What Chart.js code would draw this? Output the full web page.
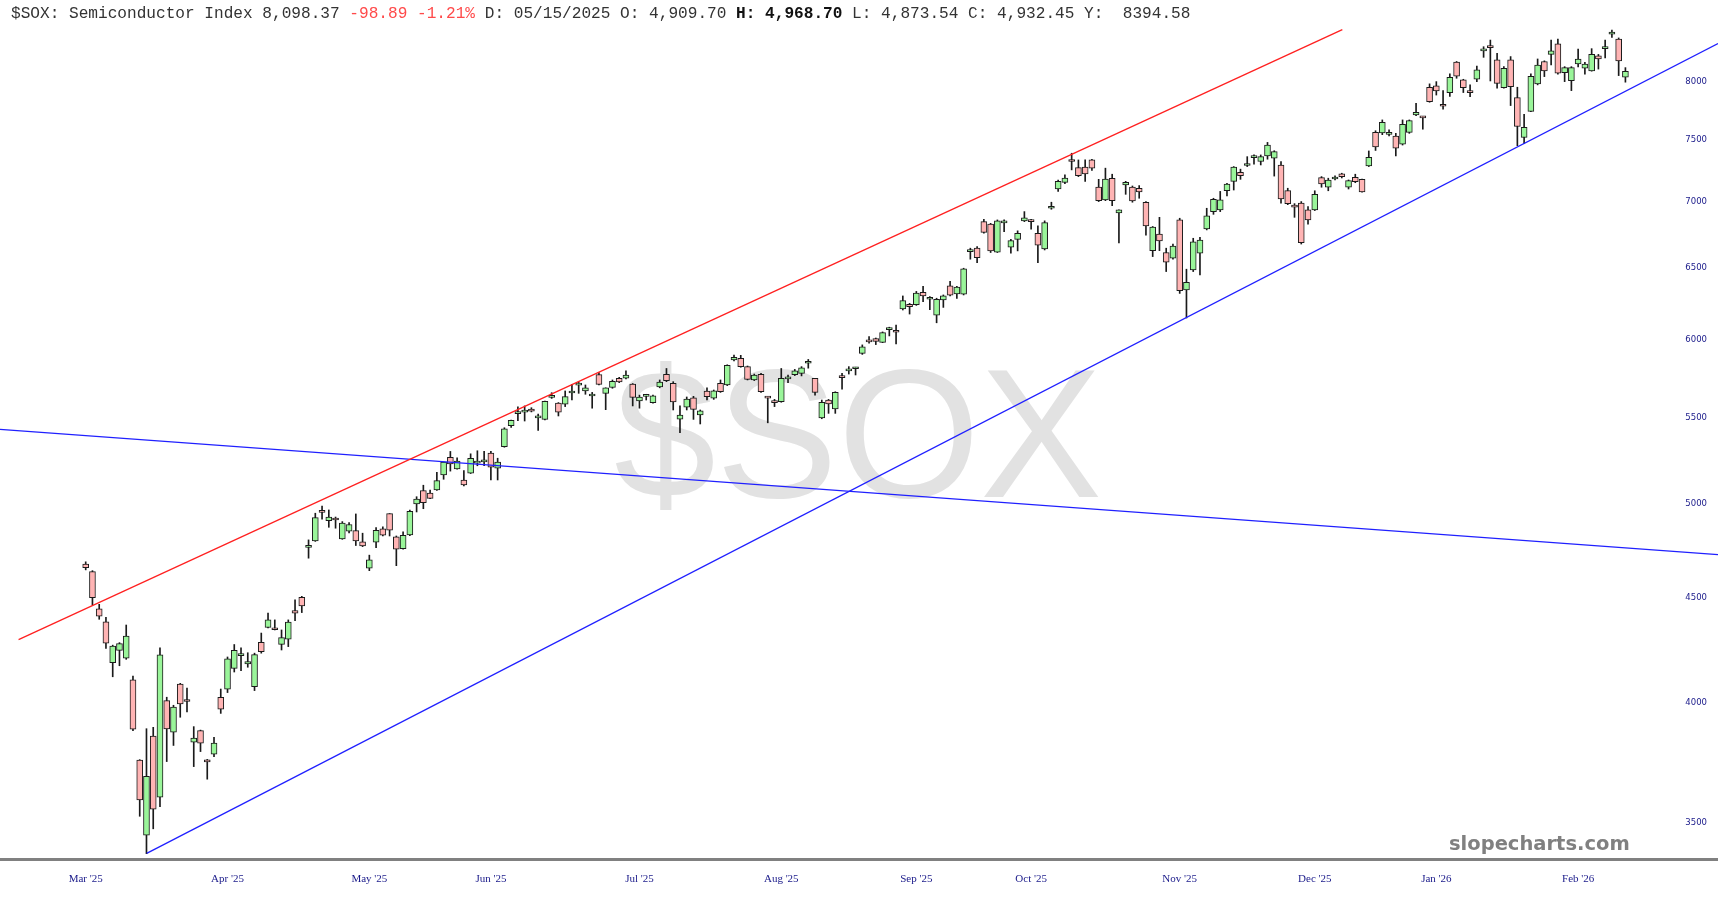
<!DOCTYPE html>
<html>
<head>
<meta charset="utf-8">
<script src="https://cdn.jsdelivr.net/npm/chart.js@4.4.1/dist/chart.umd.min.js"></script>
<style>
html,body{margin:0;padding:0;background:#fff;}
#wrap{position:relative;width:1718px;height:900px;overflow:hidden;}
canvas{position:absolute;left:0;top:0;}
#hdr{position:absolute;left:11px;top:5px;font:16.13px "Liberation Mono","DejaVu Sans Mono",monospace;color:#333;white-space:pre;}
#hdr .r{color:#ff4a4a;}
#hdr .b{font-weight:bold;color:#111;}
</style>
</head>
<body>
<div id="wrap">
<canvas id="c" width="1718" height="900"></canvas>
<div id="hdr">$SOX: Semiconductor Index 8,098.37 <span class="r">-98.89 -1.21%</span> D: 05/15/2025 O: 4,909.70 <span class="b">H: 4,968.70</span> L: 4,873.54 C: 4,932.45 Y:  8394.58</div>
</div>
<script>
// ---- data (daily candles, index 0 = first session shown) ----
const opens = [
4672,4633,4444,4380,4185,4243,4207,4106,3754,3452,
3856,3602,4012,3873,4087,4016,3830,3880,3755,3779,
4027,4063,4159,4218,4179,4075,4282,4353,4350,4272,
4296,4436,4502,4760,4795,4957,4904,4918,4805,4847,
4850,4789,4651,4788,4859,4943,4817,4753,4827,4997,
5071,5058,5075,5161,5264,5196,5132,5171,5229,5236,
5288,5200,5326,5452,5526,5536,5555,5500,5491,5628,
5592,5585,5655,5705,5669,5636,5772,5653,5690,5749,
5749,5712,5605,5634,5595,5693,5774,5717,5493,5566,
5625,5518,5668,5623,5717,5706,5867,5878,5824,5738,
5774,5632,5603,5601,5745,5772,5780,5846,5749,5500,
5611,5555,5766,5796,5810,5911,6000,6009,5984,6070,
6060,6211,6243,6241,6327,6279,6169,6274,6374,6316,
6314,6622,6647,6847,6829,6617,6838,6655,6713,6853,
6860,6759,6641,6950,7101,7154,7335,7272,7276,7335,
7117,7015,7187,6913,7134,7117,7106,6997,6629,6752,
6615,6573,6860,6344,6488,6610,6792,6924,6937,7088,
7162,7235,7290,7354,7322,7368,7349,7294,7088,6975,
6990,6937,6937,7192,7115,7181,7222,7115,7195,7178,
7286,7565,7560,7547,7534,7466,7564,7712,7700,7955,
7967,7800,7908,8181,8020,7920,8026,8284,8333,8201,
7952,8201,7864,7521,7743,7985,8187,8252,8350,8086,
8014,8164,8125,8102,8238,8305,8440,8394,8044];
const highs = [
4684,4638,4467,4403,4268,4280,4365,4123,3756,3888,
3894,4255,4027,3991,4090,4068,3897,3882,3757,3851,
4064,4212,4271,4255,4232,4230,4326,4423,4390,4341,
4390,4489,4507,4800,4945,4985,4963,4924,4899,4894,
4941,4836,4719,4866,4871,4943,4821,4843,4963,5037,
5102,5075,5176,5235,5298,5260,5186,5284,5302,5298,
5298,5258,5440,5487,5569,5574,5563,5524,5605,5657,
5595,5668,5710,5725,5706,5659,5785,5688,5738,5755,
5797,5715,5642,5647,5642,5738,5812,5727,5574,5630,
5634,5549,5688,5674,5738,5836,5900,5898,5828,5776,
5780,5632,5615,5812,5770,5806,5824,5871,5749,5611,
5615,5663,5780,5824,5820,5967,6022,6013,6054,6086,
6101,6302,6250,6334,6370,6297,6286,6309,6405,6370,
6500,6647,6659,6865,6834,6860,6860,6713,6777,6924,
6865,6815,6853,6997,7173,7214,7390,7335,7335,7341,
7178,7268,7219,6937,7162,7125,7128,7002,6810,6880,
6647,6678,6873,6493,6721,6729,6950,7028,7082,7146,
7281,7260,7362,7376,7376,7480,7411,7322,7107,6986,
7002,6963,7087,7200,7187,7206,7227,7173,7219,7181,
7409,7578,7670,7585,7556,7670,7670,7814,7700,7985,
8005,7925,8075,8187,8026,7976,8146,8323,8385,8262,
8140,8232,7955,7718,8075,8210,8193,8385,8394,8140,
8140,8302,8179,8305,8252,8385,8480,8405,8131];
const lows = [
4642,4464,4393,4253,4120,4171,4201,3880,3526,3382,
3477,3564,3748,3816,3938,3962,3727,3790,3675,3769,
3955,4048,4142,4148,4164,4057,4230,4351,4341,4245,
4261,4386,4426,4703,4792,4912,4868,4863,4803,4838,
4770,4764,4638,4759,4821,4821,4664,4750,4823,4952,
4970,5026,5073,5136,5183,5194,5098,5169,5214,5214,
5132,5132,5323,5442,5483,5481,5537,5424,5487,5621,
5512,5570,5611,5653,5647,5560,5706,5551,5685,5721,
5744,5574,5560,5611,5591,5688,5727,5549,5410,5549,
5491,5463,5611,5615,5659,5702,5862,5820,5738,5734,
5659,5470,5570,5597,5721,5766,5764,5814,5642,5495,
5528,5528,5679,5776,5770,5904,5978,5969,5982,6027,
5973,6204,6176,6236,6262,6206,6116,6222,6302,6285,
6309,6566,6541,6759,6615,6615,6771,6610,6627,6847,
6789,6541,6634,6942,7082,7144,7254,7200,7162,7249,
7002,7009,6970,6687,7059,6997,7028,6745,6585,6629,
6476,6566,6320,6149,6476,6452,6784,6903,6924,7046,
7093,7178,7281,7300,7294,7341,7204,6990,6978,6880,
6678,6827,6932,7115,7087,7173,7189,7101,7151,7075,
7281,7413,7545,7534,7368,7458,7556,7706,7591,7823,
7886,7762,7873,8035,7908,7872,8005,8225,8011,7946,
7946,7794,7453,7470,7740,7976,8050,8155,8071,8005,
7925,8137,8071,8099,8118,8220,8410,8059,8000];
const closes = [
4654,4500,4408,4277,4263,4275,4312,3886,3591,3687,
3554,4222,3887,3983,3997,4008,3848,3826,3746,3826,
3974,4203,4243,4228,4190,4223,4237,4390,4342,4304,
4379,4423,4459,4771,4921,4950,4924,4908,4891,4883,
4795,4768,4694,4852,4825,4852,4750,4825,4955,5024,
5004,5028,5128,5235,5225,5241,5104,5258,5240,5248,
5206,5235,5434,5485,5535,5546,5541,5510,5603,5640,
5535,5632,5665,5715,5688,5645,5710,5688,5730,5725,
5770,5628,5630,5643,5638,5725,5734,5599,5518,5617,
5553,5543,5632,5669,5664,5832,5885,5824,5742,5770,
5664,5623,5595,5749,5753,5797,5817,5854,5659,5597,
5586,5659,5753,5804,5818,5954,5987,5991,6049,6078,
6052,6269,6227,6323,6302,6293,6279,6302,6307,6365,
6495,6632,6577,6766,6627,6853,6847,6703,6759,6877,
6847,6670,6839,6960,7162,7189,7322,7208,7222,7268,
7010,7181,7009,6937,7154,7007,7077,6815,6805,6701,
6544,6662,6339,6399,6695,6708,6892,7020,7015,7141,
7276,7208,7300,7370,7362,7458,7403,7022,6986,6959,
6688,6860,7059,7141,7173,7195,7200,7168,7160,7077,
7357,7442,7650,7564,7432,7633,7664,7735,7688,7828,
7922,7788,8044,8053,7952,7908,8110,8302,8314,7990,
8125,7961,7614,7607,8053,8155,8101,8284,8080,8131,
8131,8210,8164,8252,8210,8323,8461,8193,8098];

// month tick positions (session index) and labels
const monthIdx    = [0, 21, 42, 60, 82, 103, 123, 140, 162, 182, 200, 221];
const monthLabels = ["Mar '25","Apr '25","May '25","Jun '25","Jul '25","Aug '25","Sep '25","Oct '25","Nov '25","Dec '25","Jan '26","Feb '26"];
const yTicks = [3500, 4000, 4500, 5000, 5500, 6000, 6500, 7000, 7500, 8000];

// trend lines: [index, value] end points
const redLineX  = [-9.94, 186.08];   const redLineY  = [4294, 8484];
const blueUpX   = [9.03, 241.71];    const blueUpY   = [3383, 8353];
const blueDnX   = [-12.69, 241.71];  const blueDnY   = [5430, 4722];

const WATERMARK = '$SOX';
const BRAND = 'slopecharts.com';

const X_MIN = -12.69, X_MAX = 241.71;
const Y_MIN = 3361.8, Y_MAX = 8517.7;

const GREEN = '#9af59a', PINK = '#ffb4b4';

const bodies = closes.map((c, i) => ({x: i, y: [opens[i], c]}));
const wicks  = closes.map((c, i) => ({x: i, y: [lows[i], highs[i]]}));
const pts = (xs, ys) => xs.map((x, i) => ({x, y: ys[i]}));

const decor = {
  id: 'decor',
  beforeDatasetsDraw(chart) {
    const ctx = chart.ctx;
    ctx.save();
    ctx.font = '183px "Liberation Sans", Arial, sans-serif';
    ctx.fillStyle = '#e2e2e2';
    ctx.textAlign = 'center';
    ctx.textBaseline = 'middle';
    ctx.fillText(WATERMARK, 858, 447);
    ctx.restore();
  },
  afterDraw(chart) {
    const ctx = chart.ctx;
    ctx.save();
    ctx.font = 'bold 19.5px "DejaVu Sans", Verdana, sans-serif';
    ctx.fillStyle = '#808080';
    ctx.textAlign = 'left';
    ctx.textBaseline = 'middle';
    ctx.fillText(BRAND, 1449, 845);
    ctx.restore();
  }
};

new Chart(document.getElementById('c'), {
  type: 'bar',
  data: {
    datasets: [
      { type: 'line', data: pts(redLineX, redLineY), borderColor: '#ff2020', borderWidth: 1.3, pointRadius: 0, fill: false, order: 0 },
      { type: 'line', data: pts(blueUpX, blueUpY), borderColor: '#2020ff', borderWidth: 1.3, pointRadius: 0, fill: false, order: 0 },
      { type: 'line', data: pts(blueDnX, blueDnY), borderColor: '#2020ff', borderWidth: 1.3, pointRadius: 0, fill: false, order: 0 },
      { data: bodies, grouped: false, barThickness: 6, minBarLength: 2, borderWidth: 1, borderSkipped: false,
        borderColor: '#1a1a1a',
        backgroundColor: (c) => closes[c.dataIndex] >= opens[c.dataIndex] ? GREEN : PINK, order: 1 },
      { data: wicks, grouped: false, barThickness: 1, borderWidth: 0, backgroundColor: '#1a1a1a', order: 2 }
    ]
  },
  options: {
    responsive: false,
    animation: false,
    devicePixelRatio: 1,
    layout: { padding: { top: 26, left: 0, right: 0, bottom: 0 } },
    plugins: { legend: { display: false }, tooltip: { enabled: false }, title: { display: false } },
    scales: {
      x: {
        type: 'linear', min: X_MIN, max: X_MAX, offset: false,
        grid: { display: false, drawTicks: false },
        border: { display: true, color: '#808080', width: 3 },
        afterBuildTicks: (s) => { s.ticks = monthIdx.map(v => ({value: v})); },
        afterFit: (s) => { s.height = 41; },
        ticks: {
          autoSkip: false, maxRotation: 0, padding: 14,
          color: '#1a1a8a',
          font: { family: '"Liberation Serif", "Times New Roman", serif', size: 11 },
          callback: (v, i) => monthLabels[i]
        }
      },
      y: {
        type: 'logarithmic', position: 'right', min: Y_MIN, max: Y_MAX,
        grid: { display: false, drawTicks: false },
        border: { display: false },
        afterBuildTicks: (s) => { s.ticks = yTicks.map(v => ({value: v})); },
        afterFit: (s) => { s.width = 0; },
        ticks: {
          mirror: true, padding: -11,
          color: '#1a1a8a',
          font: { family: '"DejaVu Sans", Verdana, sans-serif', size: 8.5 },
          callback: (v) => String(v)
        }
      }
    }
  },
  plugins: [decor]
});
</script>
</body>
</html>
